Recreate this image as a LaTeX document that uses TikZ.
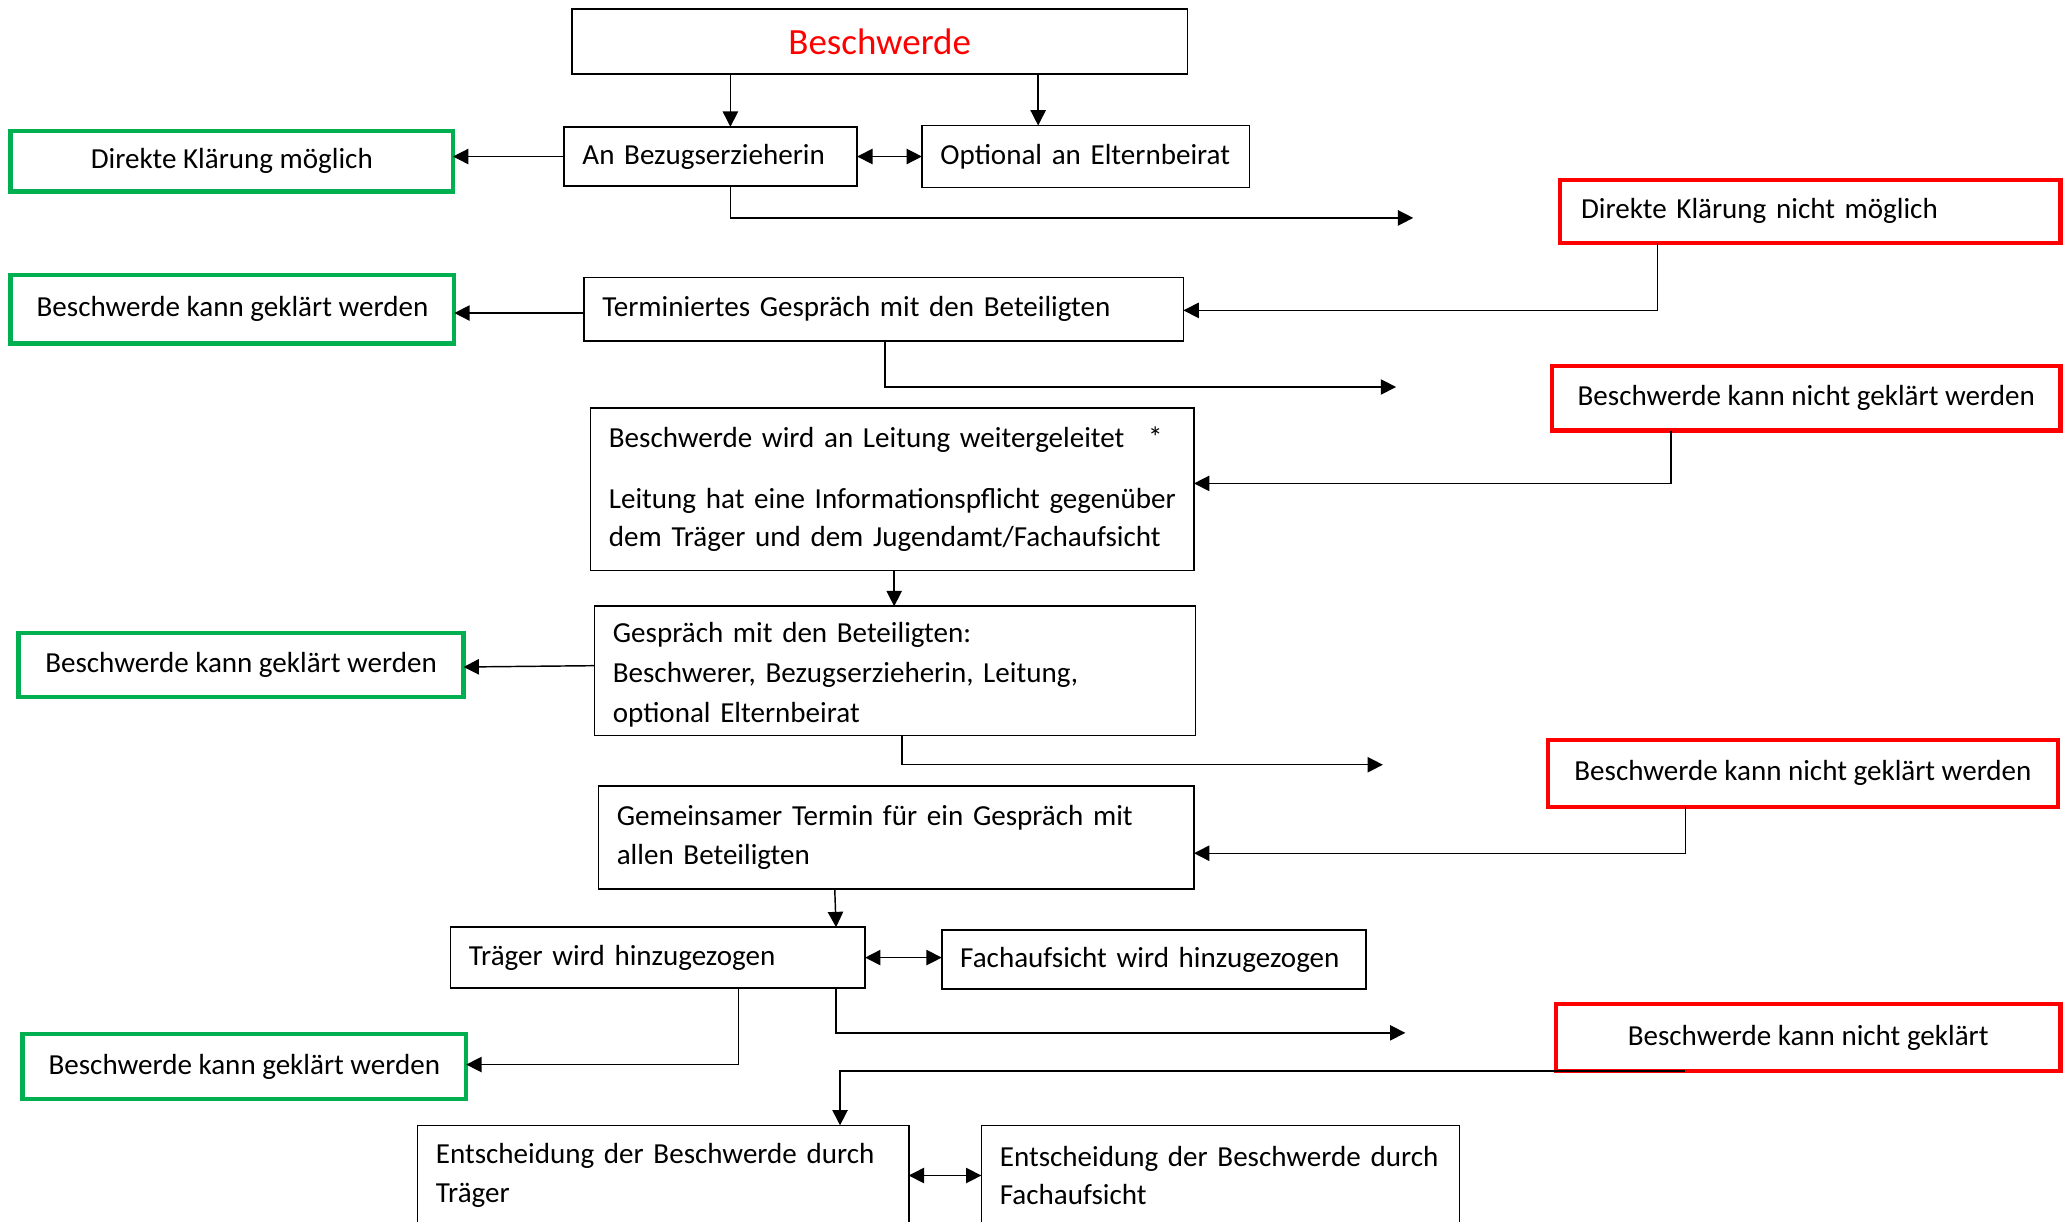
\documentclass[tikz,border=0pt]{standalone}
\usepackage{fontspec}
\setmainfont{Carlito}
\usetikzlibrary{arrows.meta}
\definecolor{okgreen}{RGB}{0,176,80}
\definecolor{okred}{RGB}{255,0,0}
\begin{document}
\begin{tikzpicture}[x=0.5pt,y=-0.5pt,
  every node/.style={font=\fontsize{11pt}{14.5pt}\selectfont, inner ysep=0pt, outer sep=0pt},
  wbox/.style={draw=black, line width=0.6pt, rectangle, inner xsep=7pt},
  gbox/.style={draw=okgreen, line width=1.6pt, rectangle, inner xsep=7pt, align=center},
  rbox/.style={draw=okred, line width=1.6pt, rectangle, inner xsep=7pt, align=center},
  conn/.style={line width=0.55pt, -{Triangle[length=5.8pt,width=5.8pt]}},
  dconn/.style={line width=0.55pt, {Triangle[length=5.8pt,width=5.8pt]}-{Triangle[length=5.8pt,width=5.8pt]}},
  openbox/.style={draw=none, rectangle, inner xsep=7pt, align=left}
]
\useasboundingbox (0,0) rectangle (1568,925);

% nodes
\node[wbox, minimum width=233pt, minimum height=24.5pt, text=okred, font=\fontsize{14pt}{17pt}\selectfont] (besch) at (666,31.5) {Beschwerde};
\node[wbox, text width=97pt, minimum height=22.5pt, align=left] (anb) at (538,118.5) {\mbox{An Bezugserzieherin}};
\node[wbox, text width=110pt, minimum height=23.5pt, align=left] (opt) at (822,118.5) {\mbox{Optional an Elternbeirat}};
\node[gbox, minimum width=167.5pt, minimum height=23pt] (g1) at (175.5,122) {Direkte Klärung möglich};
\node[rbox, text width=173.5pt, inner xsep=8pt, minimum height=24pt, align=left] (r1) at (1370.5,160) {Direkte Klärung nicht möglich};
\node[wbox, text width=213pt, minimum height=24pt, align=left] (term) at (669,234) {\mbox{Terminiertes Gespräch mit den Beteiligten}};
\node[gbox, minimum width=168pt, minimum height=26pt] (g2) at (176,234) {Beschwerde kann geklärt werden};
\node[rbox, minimum width=192.5pt, minimum height=24.5pt] (r2) at (1367.5,301.5) {Beschwerde kann nicht geklärt werden};
\node[wbox, text width=214.5pt, minimum height=61.5pt, align=left] (leit) at (675.5,370.5) {\mbox{Beschwerde wird an Leitung weitergeleitet\hspace{9pt}*}\\[8.5pt]\mbox{Leitung hat eine Informationspflicht gegenüber}\\\mbox{dem Träger und dem Jugendamt/Fachaufsicht}};
\node[wbox, text width=213.5pt, minimum height=49pt, align=left, font=\fontsize{11pt}{15pt}\selectfont] (gesp) at (677.5,508) {\mbox{\rule{0pt}{10.5pt}Gespräch mit den Beteiligten:}\\\mbox{Beschwerer, Bezugserzieherin, Leitung,}\\\mbox{optional Elternbeirat}};
\node[gbox, minimum width=168.5pt, minimum height=24.5pt] (g3) at (182.5,503.5) {Beschwerde kann geklärt werden};
\node[rbox, minimum width=193pt, minimum height=25.5pt] (r3) at (1365,585.5) {Beschwerde kann nicht geklärt werden};
\node[wbox, text width=211.5pt, minimum height=39pt, align=left, font=\fontsize{11pt}{15pt}\selectfont] (gem) at (678.5,634) {\mbox{Gemeinsamer Termin für ein Gespräch mit}\\\mbox{allen Beteiligten}};
\node[wbox, text width=143pt, minimum height=23pt, align=left] (trg) at (498,725) {\mbox{Träger wird hinzugezogen}};
\node[wbox, text width=146.5pt, minimum height=22.5pt, align=left] (fach) at (873.5,726.5) {\mbox{Fachaufsicht wird hinzugezogen}};
\node[gbox, minimum width=168pt, minimum height=24.5pt] (g4) at (185,807.5) {Beschwerde kann geklärt werden};
\node[rbox, minimum width=191pt, minimum height=25.5pt] (r4) at (1369,785.5) {Beschwerde kann nicht geklärt};
\node[openbox, text width=172pt, minimum height=38pt] (ent1) at (502,890) {\mbox{Entscheidung der Beschwerde durch}\\Träger};
\node[openbox, text width=167pt, minimum height=38pt] (ent2) at (924,890) {\mbox{Entscheidung der Beschwerde durch}\\Fachaufsicht};
\draw[line width=0.6pt] (ent1.south west) -- (ent1.north west) -- (ent1.north east) -- (ent1.south east);
\draw[line width=0.6pt] (ent2.south west) -- (ent2.north west) -- (ent2.north east) -- (ent2.south east);

% helper coordinates
\coordinate (k1) at (553,165);
\coordinate (k2) at (786,0);
\coordinate (e1) at (1070,165);
\coordinate (k3) at (1255,235);
\coordinate (h2) at (0,237);
\coordinate (k4) at (670,293);
\coordinate (e2) at (1057,293);
\coordinate (k5) at (1265,366);
\coordinate (k6) at (677,0);
\coordinate (h3a) at (0,504);
\coordinate (h3b) at (0,505);
\coordinate (k7) at (683,579);
\coordinate (e3) at (1047,579);
\coordinate (k8) at (1276,646);
\coordinate (k9) at (632,0);
\coordinate (k9b) at (633,0);
\coordinate (k10) at (559,806);
\coordinate (k11) at (633,782);
\coordinate (e4) at (1064,782);
\coordinate (k12) at (1276,0);
\coordinate (k13) at (636,811);
\coordinate (h4) at (0,890);

% connectors
\draw[conn] (besch.south -| k1) -- (anb.north -| k1);
\draw[conn] (besch.south -| k2) -- (opt.north -| k2);
\draw[dconn] (anb.east) -- (opt.west |- anb.east);
\draw[conn] (anb.west) -- (g1.east |- anb.west);
\draw[conn] (anb.south -| k1) -- (k1) -- (e1);
\draw[conn] (r1.south -| k3) -- (k3) -- (term.east |- k3);
\draw[conn] (term.west |- h2) -- (g2.east |- h2);
\draw[conn] (term.south -| k4) -- (k4) -- (e2);
\draw[conn] (r2.south -| k5) -- (k5) -- (leit.east |- k5);
\draw[conn] (leit.south -| k6) -- (gesp.north -| k6);
\draw[conn] (gesp.west |- h3a) -- (g3.east |- h3b);
\draw[conn] (gesp.south -| k7) -- (k7) -- (e3);
\draw[conn] (r3.south -| k8) -- (k8) -- (gem.east |- k8);
\draw[conn] (gem.south -| k9) -- (trg.north -| k9b);
\draw[dconn] (trg.east) -- (fach.west |- trg.east);
\draw[conn] (trg.south -| k10) -- (k10) -- (g4.east |- k10);
\draw[conn] (trg.south -| k11) -- (k11) -- (e4);
\draw[conn] (r4.south -| k12) -- (k13) -- (ent1.north -| k13);
\draw[dconn] (ent1.east |- h4) -- (ent2.west |- h4);
\end{tikzpicture}
\end{document}
